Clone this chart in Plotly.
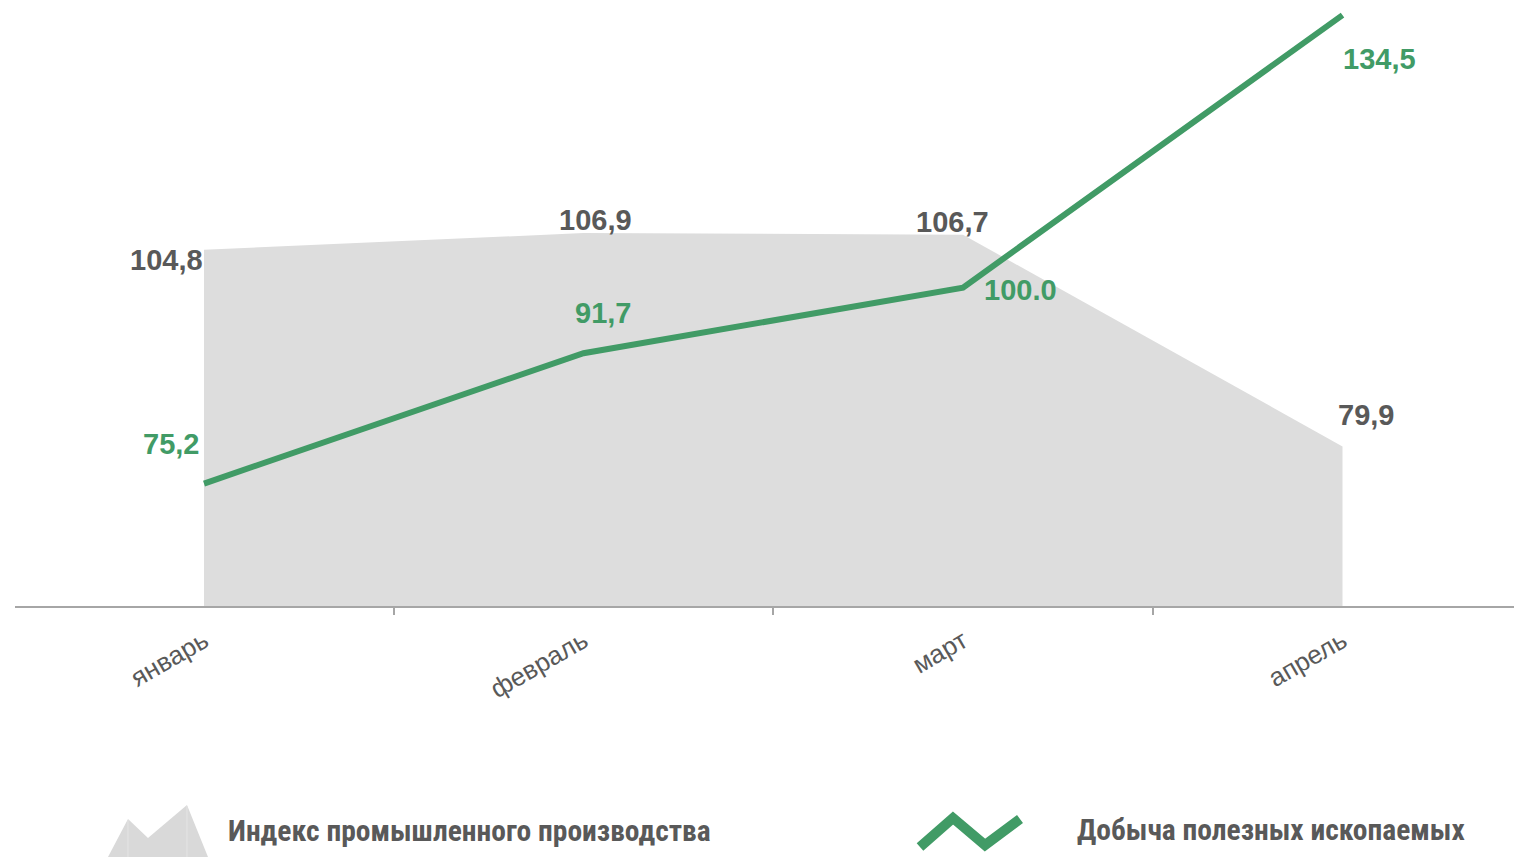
import plotly.graph_objects as go

months = ["январь", "февраль", "март", "апрель"]
industrial_index = [104.8, 106.9, 106.7, 79.9]
mining = [75.2, 91.7, 100.0, 134.5]
industrial_labels = ["104,8", "106,9", "106,7", "79,9"]
mining_labels = ["75,2", "91,7", "100.0", "134,5"]
legend_names = ["Индекс промышленного производства", "Добыча полезных ископаемых"]

GRAY_FILL = "#dddddd"
GREEN = "#419b66"
TEXT_GRAY = "#595959"
AXIS_GRAY = "#a6a6a6"

# page body has an 8px margin; work in screen coordinates and subtract it
OFF = 8
W, H = 1522, 857
ML = 15 - OFF
MR = W - (1522 - OFF)
MT = 0
AXIS_Y = 606 - OFF
MB = H - AXIS_Y
PW = W - ML - MR
PH = AXIS_Y - MT

def px2x(px):
    return (px - OFF - ML) / PW

def py2y(py):
    return (AXIS_Y - (py - OFF)) / PH

K = 7.9          # px per unit
YMIN = 59.7
YMAX = YMIN + PH / K

fig = go.Figure()
fig.add_trace(go.Scatter(
    x=months, y=industrial_index, mode="lines", fill="tozeroy",
    fillcolor=GRAY_FILL, line=dict(width=0, color=GRAY_FILL),
    hoverinfo="skip", showlegend=False, name=legend_names[0]))
fig.add_trace(go.Scatter(
    x=months, y=mining, mode="lines",
    line=dict(width=6, color=GREEN), cliponaxis=False,
    hoverinfo="skip", showlegend=False, name=legend_names[1]))

lab_font = dict(family="Liberation Sans, Arial, sans-serif", size=29, weight="bold")
gray_shifts = [(1, "right", -10), (12, "center", 13), (-11, "center", 13), (-7, "left", 31)]
green_shifts = [(-3, "right", 40), (19, "center", 40), (19, "left", -2), (-2, "left", -44)]
annotations = []
for i, m in enumerate(months):
    xs, xa, ys = gray_shifts[i]
    annotations.append(dict(x=m, y=industrial_index[i], text=industrial_labels[i],
                            showarrow=False, xanchor=xa, yanchor="middle",
                            xshift=xs, yshift=ys, font=dict(color=TEXT_GRAY, **lab_font)))
    xs, xa, ys = green_shifts[i]
    annotations.append(dict(x=m, y=mining[i], text=mining_labels[i],
                            showarrow=False, xanchor=xa, yanchor="middle",
                            xshift=xs, yshift=ys, font=dict(color=GREEN, **lab_font)))

leg_font = dict(family="Roboto Condensed, DejaVu Sans Condensed, Liberation Sans Narrow, Liberation Sans, sans-serif",
                size=29.5, weight="bold", color=TEXT_GRAY)
annotations.append(dict(xref="paper", yref="paper", x=px2x(226), y=py2y(831),
                        text=legend_names[0], showarrow=False, xanchor="left",
                        yanchor="middle", font=leg_font))
annotations.append(dict(xref="paper", yref="paper", x=px2x(1075), y=py2y(830),
                        text=legend_names[1], showarrow=False, xanchor="left",
                        yanchor="middle", font=leg_font))

def path(points):
    return "M " + " L ".join(f"{px2x(a):.5f},{py2y(b):.5f}" for a, b in points)

shapes = [
    dict(type="path", xref="paper", yref="paper",
         path=path([(108, 857), (128, 819), (148, 838), (187, 805), (208, 857)]) + " Z",
         fillcolor="#d9d9d9", line=dict(width=0)),
    dict(type="line", xref="paper", yref="paper", x0=px2x(128), x1=px2x(128),
         y0=py2y(820), y1=py2y(857), line=dict(color="#e4e4e4", width=1)),
    dict(type="line", xref="paper", yref="paper", x0=px2x(187), x1=px2x(187),
         y0=py2y(806), y1=py2y(857), line=dict(color="#e4e4e4", width=1)),
    dict(type="path", xref="paper", yref="paper",
         path=path([(920, 847), (953, 818), (985, 845), (1020, 819)]),
         line=dict(color=GREEN, width=10)),
]

unit = 379.5
x0 = -(204 - 15) / unit
fig.update_layout(
    width=W, height=H,
    margin=dict(l=ML, r=MR, t=MT, b=MB),
    paper_bgcolor="white", plot_bgcolor="white",
    xaxis=dict(type="category", range=[x0, x0 + PW / unit],
               showgrid=False, zeroline=False, showline=True,
               linecolor=AXIS_GRAY, linewidth=1.5,
               ticks="outside", tickson="boundaries", ticklen=7,
               tickcolor=AXIS_GRAY, tickwidth=1.5,
               tickangle=-30, ticklabelstandoff=8,
               tickfont=dict(family="Liberation Sans, Arial, sans-serif", size=26,
                             color=TEXT_GRAY)),
    yaxis=dict(range=[YMIN, YMAX], visible=False, showgrid=False, zeroline=False),
    annotations=annotations,
    shapes=shapes,
    showlegend=False,
)

fig.write_html("out.html")
